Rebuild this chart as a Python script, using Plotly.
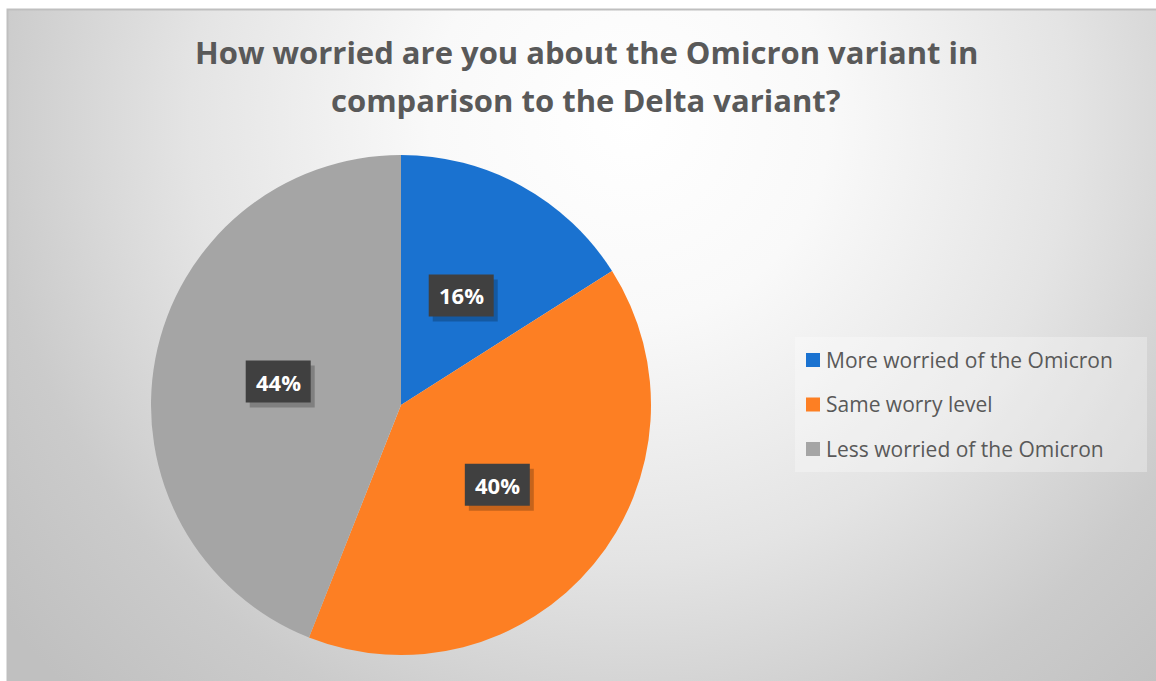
import base64
import math
import plotly.graph_objects as go

# ---- data ----
categories = ["More worried of the Omicron", "Same worry level", "Less worried of the Omicron"]
shares = [16, 40, 44]
slice_colors = ["#1a72d0", "#fd7f23", "#a5a5a5"]
title_lines = ["How worried are you about the Omicron variant in",
               "comparison to the Delta variant?"]

# ---- canvas / layout geometry (pixels) ----
W, H = 1156, 681
FRAME_X, FRAME_Y = 7, 9
PIE_CX, PIE_CY, PIE_R = 401, 405, 250
TEXT_GREY = "#595959"
FONT = "Open Sans"
BOX_W, BOX_H = 65, 42


def px(x):
    return x / W


def py(y):
    return 1 - y / H


# radial gradient backdrop for the chart area
fw, fh = W - FRAME_X, H - FRAME_Y
svg = f"""<svg xmlns='http://www.w3.org/2000/svg' width='{fw}' height='{fh}'>
<defs><radialGradient id='g' gradientUnits='userSpaceOnUse' cx='{630 - FRAME_X}' cy='{120 - FRAME_Y}' r='800'>
<stop offset='0' stop-color='#ffffff'/>
<stop offset='0.25' stop-color='#f9f9f9'/>
<stop offset='0.55' stop-color='#e4e4e4'/>
<stop offset='0.8' stop-color='#cbcbcb'/>
<stop offset='1' stop-color='#c0c0c0'/>
</radialGradient></defs>
<rect x='0' y='0' width='{fw}' height='{fh}' fill='url(#g)'/>
</svg>"""
bg_src = "data:image/svg+xml;base64," + base64.b64encode(svg.encode()).decode()

fig = go.Figure()
fig.add_trace(go.Pie(
    labels=categories,
    values=shares,
    sort=False,
    direction="clockwise",
    rotation=0,
    marker=dict(colors=slice_colors, line=dict(width=0)),
    textinfo="none",
    hoverinfo="label+percent",
    showlegend=False,
    domain=dict(x=[px(PIE_CX - PIE_R), px(PIE_CX + PIE_R)],
                y=[py(PIE_CY + PIE_R), py(PIE_CY - PIE_R)]),
))

annotations = []
shapes = []

# title
for i, line in enumerate(title_lines):
    annotations.append(dict(
        text=f"<b>{line}</b>", x=px(586), y=py(52 + 48 * i),
        xref="paper", yref="paper", xanchor="center", yanchor="middle",
        showarrow=False, font=dict(family=FONT, size=31, color=TEXT_GREY)))

# data labels at half radius along each slice's mid-angle
total = sum(shares)
cum = 0
for v in shares:
    mid = (cum + v / 2) / total * 2 * math.pi
    cum += v
    lx = PIE_CX + 0.5 * PIE_R * math.sin(mid)
    ly = PIE_CY - 0.5 * PIE_R * math.cos(mid)
    # drop shadow, then the dark label box
    shapes.append(dict(type="rect", xref="paper", yref="paper",
                       x0=px(lx - BOX_W / 2 + 4), x1=px(lx + BOX_W / 2 + 4),
                       y0=py(ly + BOX_H / 2 + 5), y1=py(ly - BOX_H / 2 + 5),
                       fillcolor="rgba(0,0,0,0.22)", line=dict(width=0)))
    shapes.append(dict(type="rect", xref="paper", yref="paper",
                       x0=px(lx - BOX_W / 2), x1=px(lx + BOX_W / 2),
                       y0=py(ly + BOX_H / 2), y1=py(ly - BOX_H / 2),
                       fillcolor="#404040", line=dict(width=0)))
    annotations.append(dict(text=f"<b>{v}%</b>", x=px(lx), y=py(ly),
                            xref="paper", yref="paper", xanchor="center", yanchor="middle",
                            showarrow=False,
                            font=dict(family=FONT, size=22, color="white")))

# legend box and entries
shapes.append(dict(type="rect", xref="paper", yref="paper",
                   x0=px(795), x1=px(1147), y0=py(472), y1=py(337),
                   fillcolor="rgba(255,255,255,0.3)", line=dict(width=0), layer="below"))
for i, (name, col) in enumerate(zip(categories, slice_colors)):
    yc = 360 + 44.5 * i
    shapes.append(dict(type="rect", xref="paper", yref="paper",
                       x0=px(806), x1=px(820), y0=py(yc + 7), y1=py(yc - 7),
                       fillcolor=col, line=dict(width=0)))
    annotations.append(dict(text=name, x=px(824), y=py(yc), xref="paper", yref="paper",
                            xanchor="left", yanchor="middle", showarrow=False,
                            font=dict(family=FONT, size=21, color=TEXT_GREY)))

# frame outline
shapes.append(dict(type="rect", xref="paper", yref="paper",
                   x0=px(FRAME_X + 0.5), x1=px(W + 5), y0=py(H + 5), y1=py(FRAME_Y + 0.5),
                   line=dict(color="#bfbfbf", width=2), fillcolor="rgba(0,0,0,0)"))

fig.update_layout(
    width=W, height=H,
    margin=dict(l=0, r=0, t=0, b=0),
    paper_bgcolor="white",
    plot_bgcolor="rgba(0,0,0,0)",
    images=[dict(source=bg_src, xref="paper", yref="paper",
                 x=px(FRAME_X), y=py(FRAME_Y), sizex=fw / W, sizey=fh / H,
                 xanchor="left", yanchor="top", sizing="stretch", layer="below")],
    annotations=annotations,
    shapes=shapes,
)

fig.write_html("out.html")
